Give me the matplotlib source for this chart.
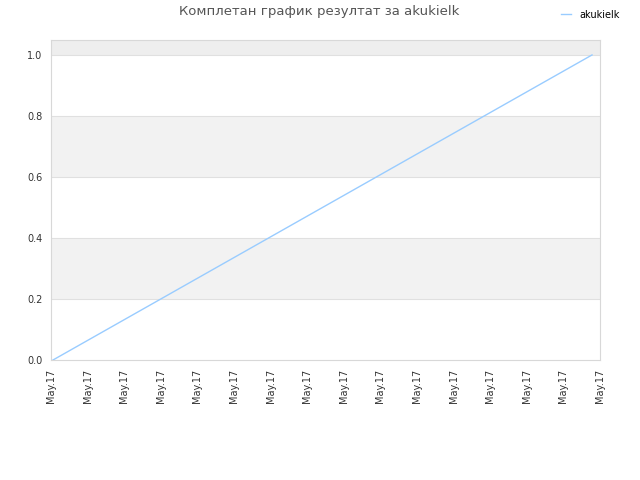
import matplotlib
matplotlib.use("Agg")
import matplotlib.pyplot as plt

# data
x_vals = [0.0, 1.0]
y_vals = [0.0, 1.0]
series_name = "akukielk"
tick_label = "May.17"
n_ticks = 16
title = "Комплетан график резултат за akukielk"

fig = plt.figure(figsize=(6.4, 4.8), dpi=100)
ax = fig.add_axes([51 / 640, 1 - 360 / 480, 549 / 640, 320 / 480])

xmin, xmax = -0.0037, 1.0148
ymin, ymax = 0.0, 1.049
ax.set_xlim(xmin, xmax)
ax.set_ylim(ymin, ymax)

# alternating bands
for lo, hi, col in [(0.2, 0.4, "#f2f2f2"), (0.6, 0.8, "#f2f2f2"), (1.0, ymax, "#eeeeee")]:
    ax.axhspan(lo, hi, color=col, zorder=0, lw=0)
for yv in [0.2, 0.4, 0.6, 0.8, 1.0]:
    ax.axhline(yv, color="#e0e0e0", lw=0.8, zorder=1)

ax.plot(x_vals, y_vals, color="#99ccff", lw=1.0, label=series_name, zorder=3)

step = (xmax - xmin) / (n_ticks - 1)
ticks = [xmin + i * step for i in range(n_ticks)]
ax.set_xticks(ticks)
ax.set_xticklabels([tick_label] * n_ticks, rotation=90, fontsize=7, color="#333333")
ax.set_yticks([0.0, 0.2, 0.4, 0.6, 0.8, 1.0])
ax.set_yticklabels(["0.0", "0.2", "0.4", "0.6", "0.8", "1.0"], fontsize=7, color="#333333")
ax.tick_params(length=0, pad=6)

for s in ax.spines.values():
    s.set_color("#d8d8d8")
    s.set_linewidth(0.8)

fig.text(0.499, 0.99, title, ha="center", va="top", fontsize=9.5, color="#555555")
fig.legend(loc="upper right", bbox_to_anchor=(628 / 640, 1 - 1 / 480),
           frameon=False, fontsize=7, handlelength=1.0, handletextpad=0.8)

fig.savefig("out.png", dpi=100)
